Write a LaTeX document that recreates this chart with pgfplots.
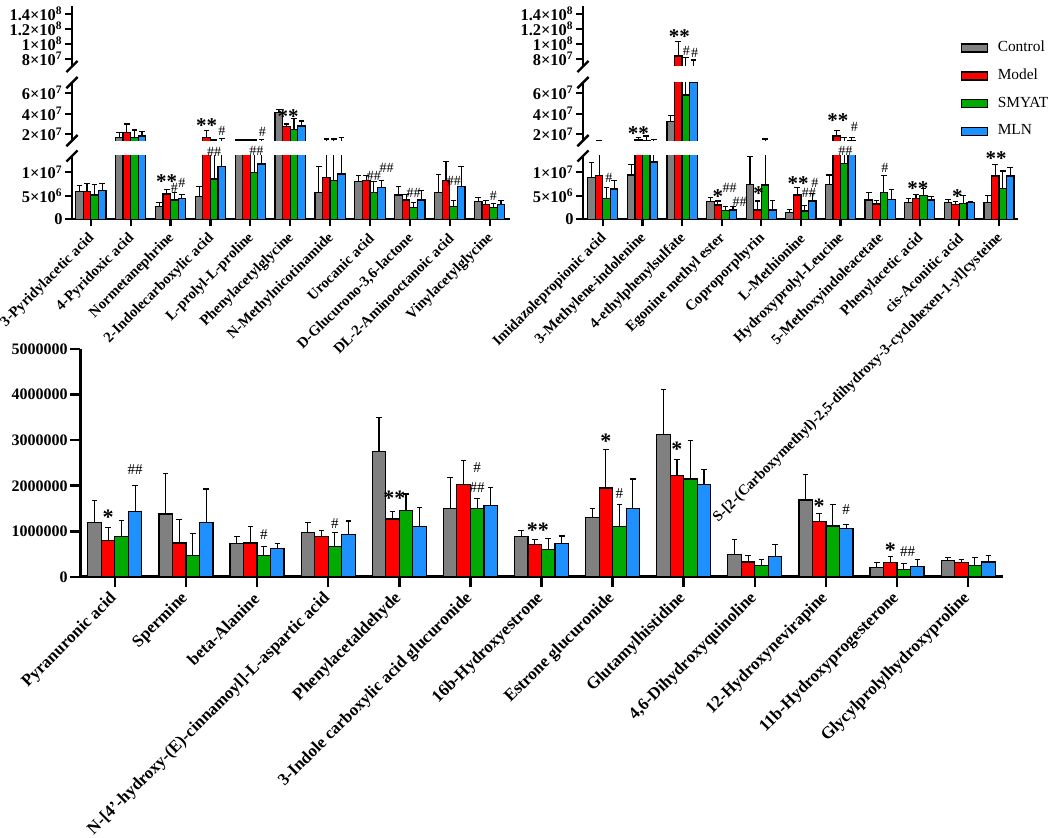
\documentclass[border=0pt]{standalone}
\usepackage{fontspec}
\setmainfont{Liberation Serif}
\usepackage{pgfplots}
\usepackage{pgfplotstable}
\pgfplotsset{compat=1.18}

\definecolor{cCtl}{RGB}{128,128,128}
\definecolor{cMod}{RGB}{255,0,0}
\definecolor{cSmy}{RGB}{0,170,0}
\definecolor{cMln}{RGB}{30,144,255}

% top-left panel
\pgfplotstableread{
x  ctl    ctle    mod    mode    smy    smye    mln    mlne
0  5.9e6  1.4e6   5.9e6  1.8e6   5.2e6  2.3e6   6.2e6  1.4e6
1  1.72e7 0.48e7  2.2e7  0.8e7   1.72e7 0.7e7   1.84e7 0.46e7
2  2.8e6  0.75e6  5.4e6  1.0e6   4.1e6  1.6e6   4.45e6 0.8e6
3  4.9e6  2.0e6   1.72e7 0.64e7  8.6e6  6.0e6   1.13e7 0.49e7
4  1.45e7 0.08e7  1.45e7 0.08e7  1.0e7  0.46e7  1.18e7 0.35e7
5  4.09e7 0.33e7  2.74e7 0.26e7  2.49e7 1.0e7   2.81e7 0.48e7
6  5.7e6  5.5e6   8.9e6  6.6e6   8.2e6  7.3e6   9.65e6 7.55e6
7  8.0e6  1.25e6  8.2e6  1.05e6  5.75e6 2.4e6   6.75e6 1.45e6
8  5.2e6  1.75e6  4.1e6  1.2e6   2.5e6  1.1e6   4.1e6  2.0e6
9  5.7e6  3.8e6   8.2e6  4.1e6   2.7e6  1.3e6   6.95e6 4.25e6
10 3.75e6 0.95e6  3.2e6  0.8e6   2.5e6  0.9e6   3.2e6  0.9e6
}\tlData

% top-right panel
\pgfplotstableread{
x  ctl    ctle    mod    mode    smy    smye    mln    mlne
0  8.9e6  3.3e6   9.3e6  5.2e6   4.5e6  2.25e6  6.45e6 1.75e6
1  9.45e6 2.25e6  1.45e7 0.23e7  1.42e7 0.42e7  1.22e7 0.31e7
2  3.22e7 0.58e7  8.4e7  1.9e7   5.8e7  2.4e7   7.05e7 0.82e7
3  3.75e6 0.95e6  3.05e6 0.85e6  1.85e6 0.85e6  2.0e6  0.7e6
4  7.45e6 5.9e6   2.0e6  1.9e6   7.3e6  8.2e6   2.0e6  2.1e6
5  1.5e6  0.5e6   5.2e6  1.55e6  1.77e6 1.13e6  3.9e6  1.65e6
6  7.5e6  1.95e6  1.84e7 0.52e7  1.19e7 0.53e7  1.43e7 0.29e7
7  4.1e6  1.65e6  3.25e6 0.85e6  5.7e6  3.6e6   4.25e6 2.15e6
8  3.6e6  0.9e6   4.5e6  0.7e6   5.0e6  1.6e6   4.1e6  0.7e6
9  3.55e6 0.7e6   3.2e6  0.55e6  3.4e6  1.6e6   3.55e6 0.2e6
10 3.55e6 1.45e6  9.25e6 2.35e6  6.6e6  3.7e6   9.25e6 1.85e6
}\trData

% bottom panel
\pgfplotstableread{
x  ctl     ctle    mod     mode    smy     smye    mln     mlne
0  1200000 470000  800000  290000  880000  360000  1440000 560000
1  1380000 880000  745000  525000  475000  485000  1200000 730000
2  730000  160000  745000  365000  467000  200000  620000  110000
3  980000  220000  890000  120000  670000  315000  927000  300000
4  2750000 750000  1270000 170000  1450000 370000  1110000 420000
5  1510000 670000  2020000 530000  1500000 230000  1560000 400000
6  890000  120000  710000  120000  600000  250000  730000  170000
7  1310000 190000  1950000 850000  1110000 470000  1510000 640000
8  3130000 990000  2230000 340000  2150000 850000  2020000 330000
9  500000  320000  330000  140000  255000  135000  450000  260000
10 1690000 550000  1220000 180000  1120000 460000  1070000 90000
11 210000  100000  310000  140000  160000  130000  230000  150000
12 360000  60000   310000  80000   255000  175000  330000  140000
}\botData

\pgfplotsset{
  barC/.style={ybar, bar width=0.19, bar shift=0pt, draw=black, line width=0.6pt,
    /pgfplots/error bars/y dir=plus, /pgfplots/error bars/y explicit,
    /pgfplots/error bars/error bar style={line width=0.55pt, black},
    /pgfplots/error bars/error mark options={rotate=90, mark size=1.4pt, line width=0.55pt, black}},
  myleg/.style={legend image code/.code={\draw[##1,/tikz/.cd,line width=0.6pt] (0pt,-2pt) rectangle (13pt,2pt);}},
  seg/.style={scale only axis, clip mode=individual, axis lines*=left,
    axis line style={line width=1.2pt,-},
    tick style={line width=1.1pt, black}, major tick length=3.5pt, tick align=outside,
    scaled y ticks=false,
    yticklabel style={font=\bfseries\fontsize{8.2}{9}\selectfont, inner sep=1pt},
    xticklabel style={font=\bfseries\fontsize{7.4}{8}\selectfont, xshift=1.5pt, yshift=-4pt, rotate=45, anchor=east, inner sep=1pt}},
  upperseg/.style={axis x line=none, xtick=\empty},
}
\tikzset{
  ann/.style={font=\fontsize{7}{7}\selectfont, inner sep=0pt},
  st/.style={font=\bfseries\fontsize{10.5}{10}\selectfont, inner sep=0pt, yshift=-1.8pt},
  annB/.style={font=\fontsize{7.5}{8}\selectfont, inner sep=0pt},
  stB/.style={font=\bfseries\fontsize{11}{11}\selectfont, inner sep=0pt, yshift=-2pt},
}

\newcommand\fourbars[2][]{%
  \addplot[fill=cCtl, barC, #1] table[x expr=\thisrow{x}-0.285, y=ctl, y error=ctle]{#2};
  \addplot[fill=cMod, barC, #1] table[x expr=\thisrow{x}-0.095, y=mod, y error=mode]{#2};
  \addplot[fill=cSmy, barC, #1] table[x expr=\thisrow{x}+0.095, y=smy, y error=smye]{#2};
  \addplot[fill=cMln, barC, #1] table[x expr=\thisrow{x}+0.285, y=mln, y error=mlne]{#2};
}

\begin{document}
\begin{tikzpicture}
\useasboundingbox (0pt,0pt) rectangle (526pt,419pt);

% ================= UPPER SEGMENTS (7e7 - 1.5e8), extended below and masked =================
\begin{axis}[seg, upperseg, name=tlU, at={(36pt,381.75pt)}, anchor=south west,
  width=219pt, height=34pt, xmin=-0.47, xmax=10.51, ymin=5.9333e7, ymax=1.5e8,
  ytick={8e7,1e8,1.2e8,1.4e8}, yticklabels={8×10\textsuperscript{7},1×10\textsuperscript{8},1.2×10\textsuperscript{8},1.4×10\textsuperscript{8}}]
\fourbars{\tlData}
\end{axis}
\begin{axis}[seg, upperseg, name=trU, at={(291.5pt,381.75pt)}, anchor=south west,
  width=217.5pt, height=34pt, xmin=-0.5, xmax=10.48, ymin=5.9333e7, ymax=1.5e8,
  ytick={8e7,1e8,1.2e8,1.4e8}, yticklabels={8×10\textsuperscript{7},1×10\textsuperscript{8},1.2×10\textsuperscript{8},1.4×10\textsuperscript{8}}]
\fourbars{\trData}
\end{axis}
\fill[white] (30pt,379pt) rectangle (258pt,385.75pt);
\fill[white] (285pt,379pt) rectangle (511pt,385.75pt);

% ================= MIDDLE SEGMENTS (1.4e7 - 7e7), extended below and masked =================
\begin{axis}[seg, upperseg, name=tlM, at={(36pt,344.7pt)}, anchor=south west,
  width=219pt, height=33pt, xmin=-0.47, xmax=10.51, ymin=6.276e6, ymax=7e7,
  ytick={2e7,4e7,6e7}, yticklabels={2×10\textsuperscript{7},4×10\textsuperscript{7},6×10\textsuperscript{7}}]
\fourbars{\tlData}
\end{axis}
\begin{axis}[seg, upperseg, name=trM, at={(291.5pt,344.7pt)}, anchor=south west,
  width=217.5pt, height=33pt, xmin=-0.5, xmax=10.48, ymin=6.276e6, ymax=7e7,
  ytick={2e7,4e7,6e7}, yticklabels={2×10\textsuperscript{7},4×10\textsuperscript{7},6×10\textsuperscript{7}}]
\fourbars{\trData}
\end{axis}
\fill[white] (30pt,342.2pt) rectangle (258pt,348.7pt);
\fill[white] (285pt,342.2pt) rectangle (511pt,348.7pt);

% ================= LOWER SEGMENTS (0 - 1.35e7) =================
\begin{axis}[seg, name=tlL, at={(36pt,309.35pt)}, anchor=south west,
  width=219pt, height=31.65pt, xmin=-0.47, xmax=10.51, ymin=0, ymax=1.35e7,
  ytick={0,5e6,1e7}, yticklabels={0,5×10\textsuperscript{6},1×10\textsuperscript{7}},
  xtick={0,...,10},
  xticklabels={3-Pyridylacetic acid,4-Pyridoxic acid,Normetanephrine,2-Indolecarboxylic acid,L-prolyl-L-proline,Phenylacetylglycine,N-Methylnicotinamide,Urocanic acid,{D-Glucurono-3,6-lactone},DL-2-Aminooctanoic acid,Vinylacetylglycine}]
\fourbars{\tlData}
\node[st] at (axis cs:1.905,8.81e6) {**};
\node[ann] at (axis cs:2.095,6.74e6) {\#};
\node[ann] at (axis cs:2.285,7.68e6) {\#};
\node[st] at (axis cs:2.905,20.82e6) {**};
\node[ann] at (axis cs:3.285,18.83e6) {\#};
\node[ann] at (axis cs:3.095,14.42e6) {\#\#};
\node[ann] at (axis cs:4.3,18.69e6) {\#};
\node[ann] at (axis cs:4.15,14.63e6) {\#\#};
\node[st] at (axis cs:4.95,22.74e6) {**};
\node[ann] at (axis cs:7.1,9.24e6) {\#\#};
\node[ann] at (axis cs:7.42,10.88e6) {\#\#};
\node[ann] at (axis cs:8.095,5.67e6) {\#\#};
\node[ann] at (axis cs:9.1,8.28e6) {\#\#};
\node[ann] at (axis cs:10.095,4.97e6) {\#};
\end{axis}
\begin{axis}[seg, name=trL, at={(291.5pt,309.35pt)}, anchor=south west,
  width=217.5pt, height=31.65pt, xmin=-0.5, xmax=10.48, ymin=0, ymax=1.35e7,
  ytick={0,5e6,1e7}, yticklabels={0,5×10\textsuperscript{6},1×10\textsuperscript{7}},
  xtick={0,...,10},
  xticklabels={Imidazolepropionic acid,3-Methylene-indolenine,4-ethylphenylsulfate,Egonine methyl ester,Coproporphyrin,L-Methionine,Hydroxyprolyl-Leucine,5-Methoxyindoleacetate,Phenylacetic acid,cis-Aconitic acid,{S-[2-(Carboxymethyl)-2,5-dihydroxy-3-cyclohexen-1-yl]cysteine}},
  legend cell align=left,
  legend style={at={(0.867,2.853)}, anchor=north west, draw=none, fill=none,
    font=\fontsize{7.7}{8.4}\selectfont, row sep=5.2pt, column sep=4pt, inner sep=0pt,
    nodes={inner sep=1pt}}]
\fourbars[myleg]{\trData}
\legend{Control,Model,SMYAT,MLN}
\node[ann] at (axis cs:0.15,8.75e6) {\#};
\node[st] at (axis cs:0.9,19.05e6) {**};
\node[st] at (axis cs:1.93,39.74e6) {**};
\node[ann] at (axis cs:2.11,35.9e6) {\#};
\node[ann] at (axis cs:2.32,35.47e6) {\#};
\node[st] at (axis cs:2.905,5.55e6) {*};
\node[ann] at (axis cs:3.2,6.61e6) {\#\#};
\node[ann] at (axis cs:3.45,3.75e6) {\#\#};
\node[st] at (axis cs:3.93,6.25e6) {*};
\node[st] at (axis cs:4.93,8.38e6) {**};
\node[ann] at (axis cs:5.2,5.55e6) {\#\#};
\node[ann] at (axis cs:5.35,7.74e6) {\#};
\node[st] at (axis cs:5.93,21.88e6) {**};
\node[ann] at (axis cs:6.35,19.79e6) {\#};
\node[ann] at (axis cs:6.12,14.57e6) {\#\#};
\node[ann] at (axis cs:7.12,11.05e6) {\#};
\node[st] at (axis cs:7.95,7.32e6) {**};
\node[st] at (axis cs:8.95,5.55e6) {*};
\node[st] at (axis cs:9.93,13.72e6) {**};
\end{axis}

% break marks
\foreach \xx in {36pt,291.5pt}{
  \foreach \yy in {385.75pt,377.7pt,348.7pt,340.99pt}{
    \draw[line width=1.2pt] (\xx-2.8pt,\yy-2.8pt) -- (\xx+2.8pt,\yy+2.8pt);
  }
}

% ================= BOTTOM =================
\begin{axis}[seg, name=bot, at={(40pt,130.5pt)}, anchor=south west,
  width=461.5pt, height=114pt, xmin=-0.49, xmax=12.49, ymin=0, ymax=5000000,
  axis line style={line width=1.5pt,-}, major tick length=5pt,
  tick style={line width=1.3pt, black},
  ytick={0,1000000,2000000,3000000,4000000,5000000},
  yticklabels={0,1000000,2000000,3000000,4000000,5000000},
  yticklabel style={font=\bfseries\fontsize{8}{9}\selectfont},
  xticklabel style={font=\bfseries\fontsize{8.5}{9}\selectfont, xshift=-0.5pt, yshift=1pt},
  xtick={0,...,12},
  xticklabels={Pyranuronic acid,Spermine,beta-Alanine,N-[4'-hydroxy-(E)-cinnamoyl]-L-aspartic acid,Phenylacetaldehyde,3-Indole carboxylic acid glucuronide,16b-Hydroxyestrone,Estrone glucuronide,Glutamylhistidine,{4,6-Dihydroxyquinoline},12-Hydroxynevirapine,11b-Hydroxyprogesterone,Glycylprolylhydroxyproline}]
\fourbars{\botData}
\node[stB] at (axis cs:-0.095,1400000) {*};
\node[annB] at (axis cs:0.285,2350000) {\#\#};
\node[annB] at (axis cs:2.095,930000) {\#};
\node[annB] at (axis cs:3.095,1180000) {\#};
\node[stB] at (axis cs:3.93,1820000) {**};
\node[annB] at (axis cs:5.095,1970000) {\#\#};
\node[annB] at (axis cs:5.095,2390000) {\#};
\node[stB] at (axis cs:5.95,1120000) {**};
\node[stB] at (axis cs:6.905,3070000) {*};
\node[annB] at (axis cs:7.095,1840000) {\#};
\node[stB] at (axis cs:7.905,2880000) {*};
\node[stB] at (axis cs:9.905,1640000) {*};
\node[annB] at (axis cs:10.285,1470000) {\#};
\node[stB] at (axis cs:10.905,670000) {*};
\node[annB] at (axis cs:11.15,560000) {\#\#};
\end{axis}
\end{tikzpicture}
\end{document}
